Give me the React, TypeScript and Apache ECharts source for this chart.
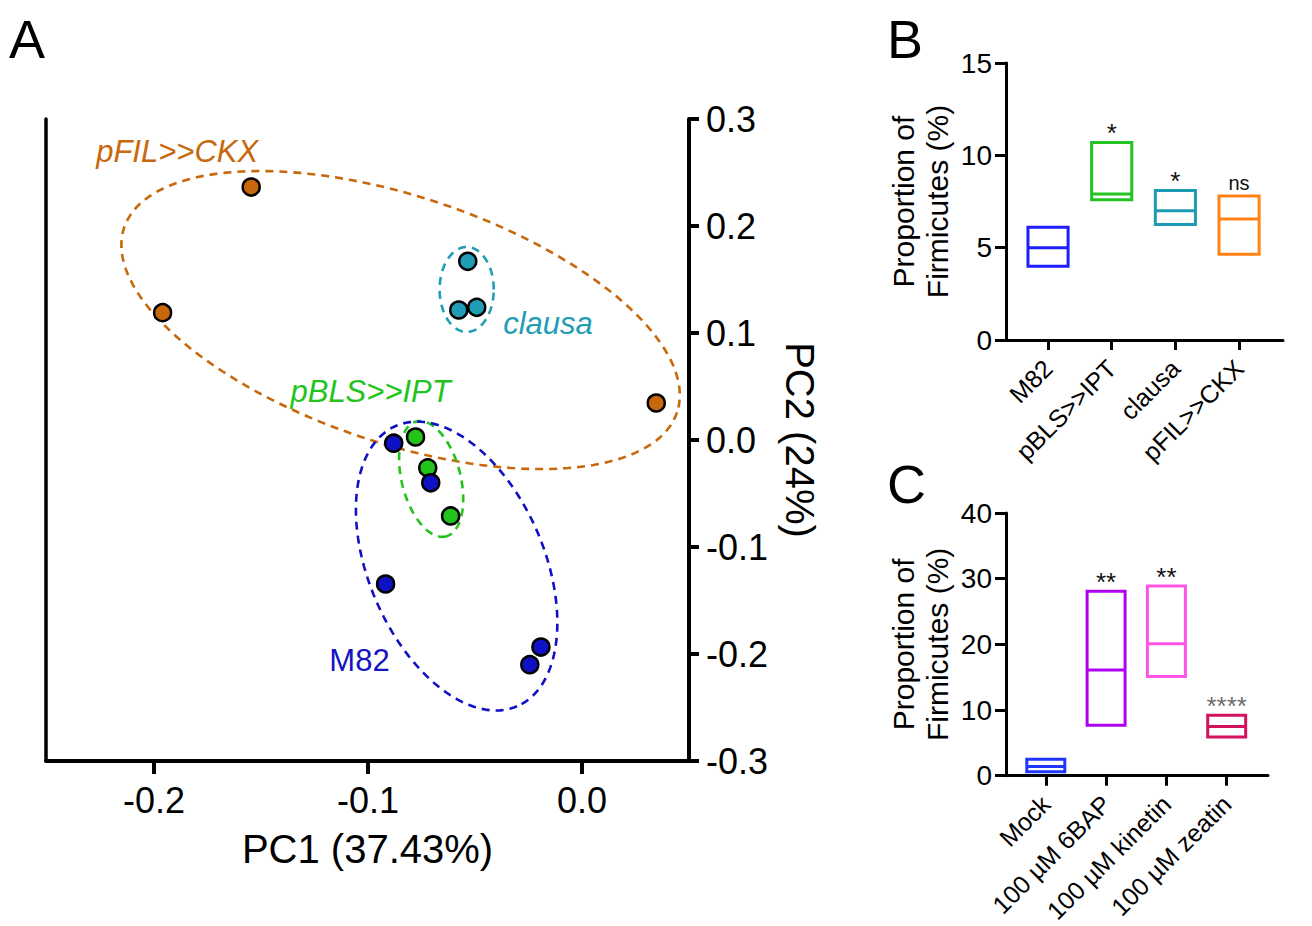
import React, { useEffect, useRef } from "react";
import * as echarts from "echarts";

// ---------- Panel A: PCA scores ----------
const pfilPoints = [
  [-0.1546, 0.2364],
  [-0.196, 0.119],
  [0.0347, 0.0346],
];
const clausaPoints = [
  [-0.0534, 0.167],
  [-0.0576, 0.1215],
  [-0.0492, 0.124],
];
const pblsPoints = [
  [-0.0778, 0.0028],
  [-0.0721, -0.026],
  [-0.0614, -0.071],
];
const m82Points = [
  [-0.088, -0.003],
  [-0.0707, -0.04],
  [-0.0918, -0.1346],
  [-0.0244, -0.21],
  [-0.0192, -0.1935],
];
// confidence ellipses: centre and two semi-axis vectors (data units)
const pfilEllipse = { c: [-0.0848, 0.1121], u: [0.1292, -0.0863], v: [-0.0183, -0.1093] };
const clausaEllipse = { c: [-0.0539, 0.1407], u: [0.01265, 0], v: [0, 0.0397] };
const pblsEllipse = { c: [-0.0705, -0.0364], u: [0.00689, -0.0537], v: [-0.0133, -0.0068] };
const m82Ellipse = { c: [-0.0586, -0.1178], u: [0.02824, -0.1311], v: [-0.03766, -0.03224] };
// group label anchors (data units)
const groupLabels = [
  { text: "pFIL>>CKX", at: [-0.1892, 0.2692] },
  { text: "clausa", at: [-0.0159, 0.1093] },
  { text: "pBLS>>IPT", at: [-0.0988, 0.0449] },
  { text: "M82", at: [-0.104, -0.2065] },
];
const pcaXTicks = [-0.2, -0.1, 0.0];

// ---------- Panel B ----------
const bCategories = ["M82", "pBLS>>IPT", "clausa", "pFIL>>CKX"];
const bMin = [4.0, 7.6, 6.25, 4.65];
const bMedian = [5.0, 7.9, 7.0, 6.55];
const bMax = [6.1, 10.7, 8.1, 7.8];
const bSignif = ["", "*", "*", "ns"];

// ---------- Panel C ----------
const cCategories = ["Mock", "100 µM 6BAP", "100 µM kinetin", "100 µM zeatin"];
const cMin = [0.6, 7.7, 15.1, 5.9];
const cMedian = [1.4, 16.1, 20.1, 7.5];
const cMax = [2.5, 28.1, 28.9, 9.2];
const cSignif = ["", "**", "**", "****"];

const FONT = '"Liberation Sans", Arial, Helvetica, sans-serif';
const COL = {
  pfil: "#c8680c",
  clausa: "#1f9db6",
  pbls: "#22c41c",
  m82: "#1010c4",
};
const bColors = ["#1e1eff", "#22c322", "#1e9bb4", "#ff8214"];
const cColors = ["#2036ff", "#ae00f0", "#ff55e6", "#d5105c"];
const labelColors = [COL.pfil, COL.clausa, COL.pbls, "#1414c0"];

function ellipsePts(e: { c: number[]; u: number[]; v: number[] }) {
  const pts: number[][] = [];
  const n = 160;
  for (let k = 0; k <= n; k++) {
    const t = (2 * Math.PI * k) / n;
    pts.push([
      e.c[0] + e.u[0] * Math.cos(t) + e.v[0] * Math.sin(t),
      e.c[1] + e.u[1] * Math.cos(t) + e.v[1] * Math.sin(t),
    ]);
  }
  return pts;
}

function boxSeries(
  gridIdx: number,
  mins: number[],
  meds: number[],
  maxs: number[],
  colors: string[],
  signif: string[]
) {
  return {
    type: "custom",
    xAxisIndex: gridIdx,
    yAxisIndex: gridIdx,
    encode: { x: 0, y: [1, 2, 3] },
    data: mins.map((m, i) => [i, m, meds[i], maxs[i]]),
    renderItem: (params: any, api: any) => {
      const i = api.value(0);
      const pLo = api.coord([i, api.value(1)]);
      const pMed = api.coord([i, api.value(2)]);
      const pHi = api.coord([i, api.value(3)]);
      const w = api.size([0.63, 0])[0];
      const color = colors[params.dataIndex];
      const children: any[] = [
        {
          type: "rect",
          shape: { x: pLo[0] - w / 2, y: pHi[1], width: w, height: pLo[1] - pHi[1] },
          style: { fill: "none", stroke: color, lineWidth: 3 },
        },
        {
          type: "line",
          shape: { x1: pLo[0] - w / 2, y1: pMed[1], x2: pLo[0] + w / 2, y2: pMed[1] },
          style: { stroke: color, lineWidth: 3 },
        },
      ];
      const sig = signif[params.dataIndex];
      if (sig) {
        const star = sig.indexOf("*") >= 0;
        children.push({
          type: "text",
          x: pHi[0],
          y: pHi[1] - (star ? 9 : 13),
          style: {
            text: sig,
            fill: sig === "****" ? "#6e6e6e" : "#111",
            fontSize: star ? 26 : 20,
            fontFamily: FONT,
            align: "center",
            verticalAlign: "middle",
          },
        });
      }
      return { type: "group", children };
    },
  };
}

function catAxis(gridIdx: number, cats: string[], max: number) {
  return {
    type: "value",
    gridIndex: gridIdx,
    min: -0.66,
    max,
    axisLine: { show: true, onZero: false, lineStyle: { color: "#000", width: 3 } },
    axisTick: { show: true, customValues: [0, 1, 2, 3], length: 10, lineStyle: { color: "#000", width: 3 } },
    axisLabel: {
      show: true,
      customValues: [0, 1, 2, 3],
      formatter: (v: number) => cats[Math.round(v)] ?? "",
      rotate: 45,
      fontSize: 25,
      fontFamily: FONT,
      color: "#000",
      margin: 24,
    },
    splitLine: { show: false },
  };
}

function percentAxis(gridIdx: number, max: number, interval: number) {
  return {
    type: "value",
    gridIndex: gridIdx,
    min: 0,
    max,
    interval,
    axisLine: { show: true, onZero: false, lineStyle: { color: "#000", width: 3 } },
    axisTick: { show: true, length: 11, lineStyle: { color: "#000", width: 3 } },
    axisLabel: { fontSize: 28, fontFamily: FONT, color: "#000", margin: 14 },
    splitLine: { show: false },
    name: "Proportion of\nFirmicutes (%)",
    nameLocation: "middle",
    nameGap: 52,
    nameTextStyle: { fontSize: 30, fontFamily: FONT, color: "#000", lineHeight: 34 },
  };
}

export default function App() {
  const ref = useRef<HTMLDivElement>(null);
  useEffect(() => {
    if (!ref.current) return;
    const chart = echarts.init(ref.current, undefined, { renderer: "svg" });
    const fmt1 = (v: number) => (Math.abs(v) < 1e-9 ? "0.0" : v.toFixed(1));
    const scatterStyle = (c: string) => ({ color: c, borderColor: "#000", borderWidth: 2.5, opacity: 1 });
    const ell = (e: any, c: string) => ({
      type: "line",
      xAxisIndex: 0,
      yAxisIndex: 0,
      data: ellipsePts(e),
      showSymbol: false,
      symbol: "none",
      silent: true,
      z: 1,
      lineStyle: { color: c, width: 2.6, type: [8, 6] },
    });
    const pts = (d: number[][], c: string) => ({
      type: "scatter",
      xAxisIndex: 0,
      yAxisIndex: 0,
      data: d,
      symbolSize: 17,
      z: 3,
      itemStyle: scatterStyle(c),
    });
    const option: any = {
      animation: false,
      backgroundColor: "#fff",
      textStyle: { fontFamily: FONT },
      grid: [
        { left: 46, top: 119, width: 643, height: 642 },
        { left: 1006, top: 63, width: 277, height: 277 },
        { left: 1006, top: 513, width: 262, height: 263 },
      ],
      xAxis: [
        {
          type: "value",
          gridIndex: 0,
          min: -0.2505,
          max: 0.05,
          axisLine: { show: true, onZero: false, lineStyle: { color: "#000", width: 4 } },
          axisTick: { show: true, customValues: pcaXTicks, length: 13, lineStyle: { color: "#000", width: 4 } },
          axisLabel: {
            customValues: pcaXTicks,
            formatter: fmt1,
            fontSize: 36,
            fontFamily: FONT,
            color: "#000",
            margin: 21,
          },
          splitLine: { show: false },
          name: "PC1 (37.43%)",
          nameLocation: "middle",
          nameGap: 68,
          nameTextStyle: { fontSize: 40, fontFamily: FONT, color: "#000" },
        },
        catAxis(1, bCategories, 3.69),
        catAxis(2, cCategories, 3.685),
      ],
      yAxis: [
        {
          type: "value",
          gridIndex: 0,
          position: "right",
          min: -0.3,
          max: 0.3,
          interval: 0.1,
          axisLine: { show: true, onZero: false, lineStyle: { color: "#000", width: 4 } },
          axisTick: { show: true, length: 10, lineStyle: { color: "#000", width: 4 } },
          axisLabel: { formatter: fmt1, fontSize: 36, fontFamily: FONT, color: "#000", margin: 17 },
          splitLine: { show: false },
          name: "PC2 (24%)",
          nameLocation: "middle",
          nameRotate: -90,
          nameGap: 91,
          nameTextStyle: { fontSize: 40, fontFamily: FONT, color: "#000" },
        },
        percentAxis(1, 15, 5),
        percentAxis(2, 40, 10),
        {
          type: "value",
          gridIndex: 0,
          position: "left",
          min: -0.3,
          max: 0.3,
          axisLine: { show: true, onZero: false, lineStyle: { color: "#000", width: 3.5 } },
          axisTick: { show: false },
          axisLabel: { show: false },
          splitLine: { show: false },
        },
      ],
      series: [
        ell(pfilEllipse, COL.pfil),
        ell(clausaEllipse, COL.clausa),
        ell(pblsEllipse, COL.pbls),
        ell(m82Ellipse, COL.m82),
        pts(pfilPoints, COL.pfil),
        pts(clausaPoints, COL.clausa),
        pts(pblsPoints, COL.pbls),
        pts(m82Points, COL.m82),
        {
          type: "scatter",
          xAxisIndex: 0,
          yAxisIndex: 0,
          symbolSize: 1,
          silent: true,
          itemStyle: { color: "transparent", opacity: 1 },
          data: groupLabels.map((g, i) => ({
            value: g.at,
            label: {
              show: true,
              position: "inside",
              formatter: g.text,
              fontSize: 31,
              fontFamily: FONT,
              fontStyle: g.text === "M82" ? "normal" : "italic",
              color: labelColors[i],
              opacity: 1,
            },
          })),
        },
        boxSeries(1, bMin, bMedian, bMax, bColors, bSignif),
        boxSeries(2, cMin, cMedian, cMax, cColors, cSignif),
      ],
      graphic: [
        { type: "text", left: 9, top: 12, style: { text: "A", fontSize: 54, fontFamily: FONT, fill: "#000" } },
        { type: "text", left: 887, top: 12, style: { text: "B", fontSize: 54, fontFamily: FONT, fill: "#000" } },
        { type: "text", left: 887, top: 457, style: { text: "C", fontSize: 54, fontFamily: FONT, fill: "#000" } },
      ],
    };
    chart.setOption(option);
    return () => chart.dispose();
  }, []);
  return (
    <div
      ref={ref}
      style={{ position: "fixed", left: 0, top: 0, width: 1312, height: 926, background: "#fff" }}
    />
  );
}
